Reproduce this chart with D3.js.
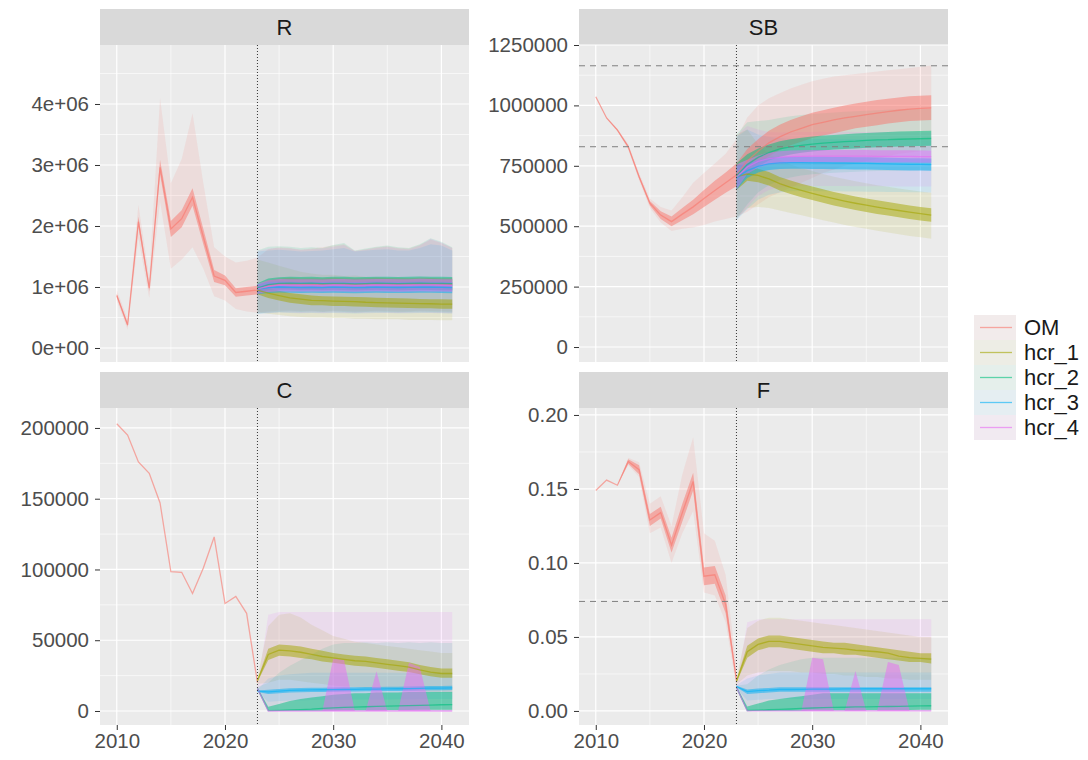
<!DOCTYPE html>
<html>
<head>
<meta charset="utf-8">
<script src="https://cdn.jsdelivr.net/npm/d3@7"></script>
<style>
  body { margin: 0; background: #fff; }
  text { font-family: "Liberation Sans", Arial, sans-serif; }
</style>
</head>
<body>
<svg id="chart" width="1088" height="760"></svg>
<script>
// ---- data: rows are [year, q05, q25, median, q75, q95] ----
const SERIES = ["OM", "hcr_1", "hcr_2", "hcr_3", "hcr_4"];
const SERIES_COLORS = ["#F8766D", "#A3A500", "#00BF7D", "#00B0F6", "#E76BF3"];
const PROJ_YEAR = 2023;
const X_TICKS = [2010, 2020, 2030, 2040];
const X_MINOR = [2015, 2025, 2035];

const R_TICKS = [0, 1e6, 2e6, 3e6, 4e6];
const R_LABELS = ["0e+00", "1e+06", "2e+06", "3e+06", "4e+06"];
const SB_TICKS = [0, 250000, 500000, 750000, 1000000, 1250000];
const SB_LABELS = ["0", "250000", "500000", "750000", "1000000", "1250000"];
const C_TICKS = [0, 50000, 100000, 150000, 200000];
const C_LABELS = ["0", "50000", "100000", "150000", "200000"];
const F_TICKS = [0, 0.05, 0.10, 0.15, 0.20];
const F_LABELS = ["0.00", "0.05", "0.10", "0.15", "0.20"];

const SB_REF = [1164000, 829000];
const F_REF = [0.074];

const R_OM = [
  [2010, 780000, 830000, 860000, 890000, 950000],
  [2011, 300000, 350000, 380000, 410000, 470000],
  [2012, 1800000, 1990000, 2070000, 2150000, 2350000],
  [2013, 820000, 930000, 980000, 1030000, 1150000],
  [2014, 2400000, 2850000, 2960000, 3080000, 4100000],
  [2015, 1300000, 1820000, 1950000, 2080000, 2700000],
  [2016, 1450000, 1980000, 2120000, 2260000, 3100000],
  [2017, 1650000, 2330000, 2470000, 2620000, 3850000],
  [2018, 1300000, 1700000, 1820000, 1950000, 2700000],
  [2019, 850000, 1080000, 1180000, 1280000, 1650000],
  [2020, 780000, 1030000, 1110000, 1190000, 1500000],
  [2021, 640000, 840000, 910000, 980000, 1400000],
  [2022, 600000, 860000, 930000, 1000000, 1430000],
  [2023, 580000, 880000, 950000, 1020000, 1480000],
  [2024, 600000, 930000, 1020000, 1110000, 1620000],
  [2025, 610000, 950000, 1045000, 1140000, 1650000],
  [2026, 615000, 955000, 1050000, 1150000, 1640000],
  [2027, 605000, 945000, 1042000, 1140000, 1610000],
  [2028, 610000, 950000, 1048000, 1145000, 1630000],
  [2029, 600000, 945000, 1040000, 1138000, 1650000],
  [2030, 612000, 952000, 1052000, 1150000, 1680000],
  [2031, 605000, 948000, 1046000, 1144000, 1700000],
  [2032, 598000, 942000, 1040000, 1138000, 1590000],
  [2033, 604000, 946000, 1045000, 1143000, 1620000],
  [2034, 610000, 952000, 1050000, 1150000, 1650000],
  [2035, 606000, 948000, 1048000, 1146000, 1670000],
  [2036, 600000, 944000, 1043000, 1142000, 1640000],
  [2037, 604000, 947000, 1046000, 1145000, 1630000],
  [2038, 610000, 952000, 1051000, 1150000, 1690000],
  [2039, 606000, 950000, 1049000, 1148000, 1780000],
  [2040, 602000, 946000, 1046000, 1145000, 1720000],
  [2041, 598000, 943000, 1043000, 1142000, 1640000]
];
const R_HCR1 = [
  [2023, 580000, 880000, 950000, 1020000, 1450000],
  [2024, 560000, 820000, 900000, 980000, 1400000],
  [2025, 540000, 780000, 860000, 940000, 1350000],
  [2026, 520000, 740000, 820000, 900000, 1300000],
  [2027, 510000, 720000, 800000, 880000, 1250000],
  [2028, 500000, 700000, 780000, 860000, 1220000],
  [2029, 500000, 700000, 775000, 850000, 1200000],
  [2030, 490000, 690000, 770000, 845000, 1200000],
  [2031, 490000, 690000, 765000, 840000, 1180000],
  [2032, 480000, 680000, 760000, 835000, 1190000],
  [2033, 480000, 675000, 750000, 830000, 1170000],
  [2034, 470000, 670000, 745000, 825000, 1160000],
  [2035, 470000, 665000, 740000, 820000, 1150000],
  [2036, 470000, 660000, 735000, 815000, 1160000],
  [2037, 460000, 655000, 730000, 810000, 1140000],
  [2038, 460000, 650000, 728000, 805000, 1130000],
  [2039, 460000, 650000, 725000, 800000, 1150000],
  [2040, 455000, 645000, 720000, 798000, 1140000],
  [2041, 455000, 645000, 718000, 795000, 1130000]
];
const R_HCR2 = [
  [2023, 560000, 900000, 980000, 1060000, 1600000],
  [2024, 580000, 950000, 1040000, 1140000, 1660000],
  [2025, 590000, 960000, 1060000, 1160000, 1670000],
  [2026, 600000, 960000, 1065000, 1170000, 1660000],
  [2027, 590000, 950000, 1060000, 1165000, 1640000],
  [2028, 600000, 955000, 1062000, 1170000, 1650000],
  [2029, 590000, 950000, 1055000, 1160000, 1640000],
  [2030, 600000, 955000, 1060000, 1170000, 1690000],
  [2031, 590000, 950000, 1058000, 1168000, 1720000],
  [2032, 580000, 945000, 1050000, 1160000, 1600000],
  [2033, 590000, 950000, 1055000, 1165000, 1630000],
  [2034, 595000, 955000, 1062000, 1170000, 1660000],
  [2035, 590000, 950000, 1060000, 1168000, 1680000],
  [2036, 585000, 945000, 1055000, 1165000, 1650000],
  [2037, 590000, 950000, 1058000, 1168000, 1640000],
  [2038, 595000, 955000, 1062000, 1172000, 1700000],
  [2039, 590000, 950000, 1060000, 1170000, 1800000],
  [2040, 585000, 948000, 1058000, 1168000, 1740000],
  [2041, 580000, 945000, 1055000, 1165000, 1650000]
];
const R_HCR3 = [
  [2023, 560000, 880000, 960000, 1040000, 1580000],
  [2024, 570000, 900000, 990000, 1080000, 1600000],
  [2025, 580000, 910000, 1000000, 1090000, 1610000],
  [2026, 575000, 905000, 995000, 1085000, 1600000],
  [2027, 570000, 900000, 990000, 1080000, 1580000],
  [2028, 575000, 905000, 995000, 1085000, 1590000],
  [2029, 570000, 900000, 990000, 1080000, 1600000],
  [2030, 575000, 905000, 998000, 1090000, 1620000],
  [2031, 570000, 902000, 995000, 1088000, 1640000],
  [2032, 565000, 898000, 990000, 1082000, 1580000],
  [2033, 570000, 900000, 992000, 1085000, 1600000],
  [2034, 575000, 905000, 998000, 1090000, 1610000],
  [2035, 572000, 903000, 995000, 1088000, 1620000],
  [2036, 568000, 900000, 992000, 1084000, 1600000],
  [2037, 570000, 902000, 995000, 1087000, 1600000],
  [2038, 574000, 906000, 998000, 1090000, 1640000],
  [2039, 572000, 904000, 996000, 1088000, 1700000],
  [2040, 568000, 900000, 993000, 1085000, 1680000],
  [2041, 565000, 898000, 990000, 1082000, 1600000]
];
const R_HCR4 = [
  [2023, 570000, 890000, 970000, 1050000, 1590000],
  [2024, 575000, 920000, 1010000, 1110000, 1630000],
  [2025, 585000, 930000, 1030000, 1130000, 1640000],
  [2026, 580000, 928000, 1028000, 1128000, 1630000],
  [2027, 575000, 925000, 1025000, 1125000, 1610000],
  [2028, 580000, 928000, 1028000, 1128000, 1620000],
  [2029, 575000, 925000, 1024000, 1124000, 1630000],
  [2030, 582000, 930000, 1032000, 1132000, 1660000],
  [2031, 578000, 927000, 1028000, 1130000, 1690000],
  [2032, 572000, 922000, 1022000, 1122000, 1590000],
  [2033, 576000, 925000, 1026000, 1127000, 1610000],
  [2034, 580000, 930000, 1032000, 1133000, 1640000],
  [2035, 577000, 927000, 1029000, 1130000, 1660000],
  [2036, 573000, 924000, 1025000, 1126000, 1630000],
  [2037, 576000, 926000, 1028000, 1129000, 1620000],
  [2038, 580000, 930000, 1032000, 1134000, 1680000],
  [2039, 578000, 928000, 1030000, 1132000, 1790000],
  [2040, 574000, 925000, 1027000, 1128000, 1730000],
  [2041, 570000, 922000, 1024000, 1125000, 1640000]
];

const SB_OM = [
  [2010, 1036000, 1036000, 1036000, 1036000, 1036000],
  [2011, 946000, 947000, 948000, 949000, 950000],
  [2012, 893000, 895000, 898000, 901000, 903000],
  [2013, 818000, 824000, 829000, 834000, 840000],
  [2014, 690000, 698000, 705000, 712000, 720000],
  [2015, 575000, 586000, 595000, 604000, 615000],
  [2016, 515000, 530000, 546000, 562000, 580000],
  [2017, 480000, 500000, 519000, 540000, 565000],
  [2018, 490000, 525000, 550000, 575000, 620000],
  [2019, 495000, 550000, 580000, 610000, 680000],
  [2020, 505000, 580000, 615000, 650000, 720000],
  [2021, 520000, 610000, 648000, 688000, 760000],
  [2022, 530000, 638000, 680000, 722000, 800000],
  [2023, 540000, 665000, 712000, 760000, 860000],
  [2024, 560000, 720000, 770000, 820000, 950000],
  [2025, 590000, 760000, 810000, 860000, 1000000],
  [2026, 620000, 790000, 845000, 895000, 1030000],
  [2027, 640000, 815000, 870000, 920000, 1050000],
  [2028, 660000, 835000, 890000, 940000, 1070000],
  [2029, 680000, 850000, 905000, 955000, 1085000],
  [2030, 700000, 865000, 920000, 970000, 1100000],
  [2031, 720000, 875000, 930000, 980000, 1110000],
  [2032, 735000, 885000, 940000, 990000, 1120000],
  [2033, 750000, 895000, 948000, 1000000, 1125000],
  [2034, 760000, 905000, 955000, 1008000, 1130000],
  [2035, 770000, 912000, 962000, 1015000, 1135000],
  [2036, 780000, 918000, 968000, 1022000, 1140000],
  [2037, 790000, 925000, 974000, 1028000, 1145000],
  [2038, 800000, 930000, 980000, 1033000, 1150000],
  [2039, 805000, 935000, 985000, 1038000, 1155000],
  [2040, 810000, 938000, 988000, 1040000, 1160000],
  [2041, 815000, 940000, 990000, 1042000, 1165000]
];
const SB_HCR1 = [
  [2023, 530000, 650000, 705000, 760000, 880000],
  [2024, 575000, 688000, 716000, 744000, 900000],
  [2025, 580000, 682000, 710000, 738000, 840000],
  [2026, 575000, 668000, 696000, 724000, 800000],
  [2027, 565000, 648000, 676000, 704000, 775000],
  [2028, 555000, 633000, 661000, 689000, 755000],
  [2029, 545000, 620000, 648000, 676000, 740000],
  [2030, 535000, 608000, 636000, 664000, 728000],
  [2031, 525000, 597000, 625000, 653000, 716000],
  [2032, 515000, 586000, 614000, 642000, 705000],
  [2033, 505000, 576000, 604000, 632000, 695000],
  [2034, 497000, 567000, 595000, 623000, 686000],
  [2035, 489000, 559000, 587000, 615000, 678000],
  [2036, 481000, 551000, 579000, 607000, 670000],
  [2037, 474000, 544000, 572000, 600000, 663000],
  [2038, 467000, 537000, 565000, 593000, 656000],
  [2039, 460000, 530000, 558000, 586000, 650000],
  [2040, 454000, 524000, 552000, 580000, 644000],
  [2041, 448000, 518000, 546000, 574000, 638000]
];
const SB_HCR2 = [
  [2023, 530000, 655000, 708000, 760000, 880000],
  [2024, 590000, 712000, 755000, 798000, 930000],
  [2025, 640000, 748000, 785000, 822000, 935000],
  [2026, 670000, 772000, 805000, 838000, 940000],
  [2027, 690000, 788000, 820000, 852000, 948000],
  [2028, 702000, 797000, 828000, 860000, 955000],
  [2029, 710000, 804000, 835000, 866000, 960000],
  [2030, 715000, 809000, 840000, 871000, 964000],
  [2031, 718000, 813000, 844000, 875000, 968000],
  [2032, 721000, 817000, 847000, 878000, 971000],
  [2033, 723000, 820000, 850000, 881000, 974000],
  [2034, 725000, 822000, 852000, 884000, 976000],
  [2035, 727000, 825000, 855000, 886000, 978000],
  [2036, 728000, 827000, 857000, 888000, 980000],
  [2037, 729000, 828000, 858000, 890000, 982000],
  [2038, 730000, 830000, 860000, 892000, 983000],
  [2039, 731000, 831000, 861000, 893000, 984000],
  [2040, 732000, 832000, 862000, 894000, 985000],
  [2041, 732000, 833000, 863000, 895000, 986000]
];
const SB_HCR3 = [
  [2023, 525000, 650000, 700000, 750000, 870000],
  [2024, 570000, 700000, 730000, 760000, 900000],
  [2025, 610000, 722000, 748000, 774000, 880000],
  [2026, 630000, 733000, 758000, 783000, 870000],
  [2027, 640000, 737000, 762000, 787000, 865000],
  [2028, 645000, 738000, 763000, 788000, 862000],
  [2029, 646000, 738000, 763000, 788000, 862000],
  [2030, 646000, 737000, 762000, 787000, 861000],
  [2031, 645000, 737000, 762000, 787000, 861000],
  [2032, 645000, 736000, 761000, 786000, 860000],
  [2033, 644000, 736000, 761000, 786000, 860000],
  [2034, 644000, 735000, 760000, 785000, 860000],
  [2035, 643000, 735000, 760000, 785000, 859000],
  [2036, 643000, 734000, 759000, 784000, 859000],
  [2037, 642000, 733000, 758000, 783000, 858000],
  [2038, 642000, 732000, 757000, 782000, 858000],
  [2039, 641000, 731000, 756000, 781000, 857000],
  [2040, 641000, 731000, 756000, 781000, 857000],
  [2041, 640000, 730000, 755000, 780000, 856000]
];
const SB_HCR4 = [
  [2023, 528000, 652000, 703000, 755000, 875000],
  [2024, 580000, 715000, 745000, 775000, 915000],
  [2025, 625000, 743000, 768000, 793000, 900000],
  [2026, 650000, 755000, 780000, 805000, 890000],
  [2027, 660000, 760000, 785000, 810000, 888000],
  [2028, 664000, 763000, 788000, 813000, 889000],
  [2029, 665000, 764000, 789000, 814000, 890000],
  [2030, 666000, 765000, 790000, 815000, 890000],
  [2031, 666000, 765000, 790000, 815000, 891000],
  [2032, 666000, 765000, 790000, 815000, 891000],
  [2033, 666000, 765000, 790000, 815000, 891000],
  [2034, 665000, 765000, 790000, 815000, 890000],
  [2035, 665000, 765000, 790000, 815000, 890000],
  [2036, 665000, 764000, 789000, 814000, 890000],
  [2037, 665000, 764000, 789000, 814000, 890000],
  [2038, 664000, 764000, 789000, 814000, 889000],
  [2039, 664000, 764000, 789000, 814000, 889000],
  [2040, 664000, 763000, 788000, 813000, 889000],
  [2041, 664000, 763000, 788000, 813000, 889000]
];

const C_OM = [
  [2010, 203000, 203000, 203000, 203000, 203000],
  [2011, 195000, 195000, 195000, 195000, 195000],
  [2012, 176000, 176000, 176000, 176000, 176000],
  [2013, 168000, 168000, 168000, 168000, 168000],
  [2014, 147000, 147000, 147000, 147000, 147000],
  [2015, 98400, 98400, 98400, 98400, 98400],
  [2016, 98000, 98000, 98000, 98000, 98000],
  [2017, 83000, 83000, 83000, 83000, 83000],
  [2018, 101000, 101000, 101000, 101000, 101000],
  [2019, 123000, 123000, 123000, 123000, 123000],
  [2020, 76000, 76000, 76000, 76000, 76000],
  [2021, 81000, 81000, 81000, 81000, 81000],
  [2022, 69000, 69000, 69000, 69000, 69000],
  [2023, 20000, 20000, 20000, 20000, 20000]
];
const C_HCR1 = [
  [2023, 19000, 20500, 21500, 22500, 24000],
  [2024, 20000, 36000, 40000, 44000, 60000],
  [2025, 22000, 39000, 43000, 47000, 68000],
  [2026, 22000, 38500, 42500, 46500, 69000],
  [2027, 21000, 37500, 41500, 45500, 66000],
  [2028, 20000, 36500, 40000, 44000, 61000],
  [2029, 19000, 35000, 38500, 42500, 57000],
  [2030, 18000, 34000, 37500, 41000, 53000],
  [2031, 17500, 33000, 36500, 40000, 51000],
  [2032, 17000, 32000, 35500, 39000, 49000],
  [2033, 16500, 31500, 35000, 38500, 48000],
  [2034, 16000, 30500, 34000, 37500, 47000],
  [2035, 15500, 29500, 33000, 36500, 46000],
  [2036, 15000, 28500, 32000, 35500, 45000],
  [2037, 14500, 27500, 31000, 34500, 44000],
  [2038, 14000, 26000, 29000, 32500, 43000],
  [2039, 13500, 24500, 27500, 31000, 42000],
  [2040, 13000, 23500, 26500, 30000, 41000],
  [2041, 13000, 23500, 26500, 30000, 41000]
];
const C_HCR2 = [
  [2023, 15000, 15500, 16000, 16500, 17000],
  [2024, 0, 0, 300, 3000, 20000],
  [2025, 0, 0, 500, 5000, 27000],
  [2026, 0, 0, 800, 7000, 32000],
  [2027, 0, 0, 1000, 8500, 36000],
  [2028, 0, 0, 1300, 9500, 40000],
  [2029, 0, 200, 1800, 10500, 44000],
  [2030, 0, 400, 2200, 11500, 47000],
  [2031, 0, 500, 2600, 12000, 48000],
  [2032, 0, 500, 2800, 12500, 48000],
  [2033, 0, 600, 3000, 12500, 48500],
  [2034, 0, 600, 3200, 13000, 48000],
  [2035, 0, 700, 3400, 13000, 48500],
  [2036, 0, 700, 3600, 13000, 48000],
  [2037, 0, 700, 3800, 13500, 48500],
  [2038, 0, 800, 4000, 13500, 48000],
  [2039, 0, 800, 4200, 13500, 48500],
  [2040, 0, 800, 4400, 13500, 48000],
  [2041, 0, 800, 4500, 13500, 48000]
];
const C_HCR3 = [
  [2023, 13000, 13500, 14000, 14500, 15000],
  [2024, 6500, 12000, 13500, 15000, 23000],
  [2025, 7000, 12500, 14000, 15500, 25000],
  [2026, 7500, 13000, 14500, 16000, 26000],
  [2027, 7500, 13200, 14700, 16200, 26500],
  [2028, 7800, 13400, 14900, 16400, 27000],
  [2029, 8000, 13500, 15000, 16500, 27000],
  [2030, 8000, 13600, 15100, 16600, 27000],
  [2031, 8000, 13700, 15200, 16700, 27000],
  [2032, 8100, 13800, 15300, 16800, 27000],
  [2033, 8100, 13900, 15400, 16900, 27000],
  [2034, 8200, 14000, 15500, 17000, 27000],
  [2035, 8200, 14100, 15600, 17100, 27000],
  [2036, 8300, 14200, 15700, 17200, 27000],
  [2037, 8300, 14300, 15800, 17300, 27000],
  [2038, 8400, 14500, 16000, 17500, 27000],
  [2039, 8400, 14600, 16100, 17600, 27000],
  [2040, 8500, 14700, 16200, 17700, 27000],
  [2041, 8500, 14900, 16400, 17900, 27000]
];
const C_HCR4 = [
  [2023, 15000, 15500, 16000, 16500, 17000],
  [2024, 0, 0, 0, 0, 68000],
  [2025, 0, 0, 0, 0, 70000],
  [2026, 0, 0, 0, 0, 70000],
  [2027, 0, 0, 0, 0, 70000],
  [2028, 0, 0, 0, 0, 70000],
  [2029, 0, 0, 0, 0, 70000],
  [2030, 0, 0, 0, 37000, 70000],
  [2031, 0, 0, 0, 36000, 70000],
  [2032, 0, 0, 0, 0, 70000],
  [2033, 0, 0, 0, 0, 70000],
  [2034, 0, 0, 0, 28000, 70000],
  [2035, 0, 0, 0, 0, 70000],
  [2036, 0, 0, 0, 0, 70000],
  [2037, 0, 0, 0, 34000, 70000],
  [2038, 0, 0, 0, 31000, 70000],
  [2039, 0, 0, 0, 0, 70000],
  [2040, 0, 0, 0, 0, 70000],
  [2041, 0, 0, 0, 0, 70000]
];

const F_OM = [
  [2010, 0.149, 0.149, 0.149, 0.149, 0.149],
  [2011, 0.156, 0.156, 0.156, 0.156, 0.156],
  [2012, 0.1525, 0.1525, 0.1525, 0.1525, 0.1525],
  [2013, 0.166, 0.167, 0.1685, 0.170, 0.171],
  [2014, 0.158, 0.160, 0.163, 0.166, 0.168],
  [2015, 0.120, 0.125, 0.129, 0.133, 0.140],
  [2016, 0.124, 0.130, 0.134, 0.138, 0.145],
  [2017, 0.100, 0.107, 0.112, 0.117, 0.125],
  [2018, 0.120, 0.128, 0.134, 0.140, 0.160],
  [2019, 0.135, 0.149, 0.155, 0.161, 0.185],
  [2020, 0.080, 0.085, 0.091, 0.097, 0.120],
  [2021, 0.078, 0.086, 0.092, 0.098, 0.115],
  [2022, 0.060, 0.066, 0.072, 0.078, 0.092],
  [2023, 0.016, 0.019, 0.021, 0.023, 0.030]
];
const F_HCR1 = [
  [2023, 0.018, 0.019, 0.020, 0.021, 0.022],
  [2024, 0.024, 0.036, 0.040, 0.044, 0.056],
  [2025, 0.026, 0.041, 0.045, 0.049, 0.061],
  [2026, 0.027, 0.043, 0.047, 0.051, 0.063],
  [2027, 0.027, 0.043, 0.047, 0.051, 0.063],
  [2028, 0.027, 0.042, 0.046, 0.050, 0.062],
  [2029, 0.026, 0.041, 0.045, 0.049, 0.061],
  [2030, 0.026, 0.040, 0.044, 0.048, 0.060],
  [2031, 0.025, 0.039, 0.043, 0.047, 0.059],
  [2032, 0.025, 0.039, 0.0425, 0.046, 0.058],
  [2033, 0.024, 0.038, 0.042, 0.046, 0.057],
  [2034, 0.024, 0.038, 0.041, 0.045, 0.056],
  [2035, 0.023, 0.037, 0.0405, 0.044, 0.055],
  [2036, 0.023, 0.036, 0.040, 0.043, 0.054],
  [2037, 0.022, 0.035, 0.039, 0.042, 0.053],
  [2038, 0.022, 0.034, 0.037, 0.041, 0.052],
  [2039, 0.021, 0.033, 0.036, 0.040, 0.051],
  [2040, 0.021, 0.033, 0.0355, 0.039, 0.050],
  [2041, 0.021, 0.032, 0.035, 0.039, 0.050]
];
const F_HCR2 = [
  [2023, 0.015, 0.0155, 0.016, 0.0165, 0.017],
  [2024, 0, 0, 0.0003, 0.003, 0.018],
  [2025, 0, 0, 0.0005, 0.005, 0.024],
  [2026, 0, 0, 0.0008, 0.007, 0.028],
  [2027, 0, 0, 0.001, 0.008, 0.031],
  [2028, 0, 0, 0.0013, 0.009, 0.033],
  [2029, 0, 0.0002, 0.0017, 0.010, 0.035],
  [2030, 0, 0.0004, 0.002, 0.011, 0.036],
  [2031, 0, 0.0005, 0.0022, 0.012, 0.036],
  [2032, 0, 0.0005, 0.0024, 0.012, 0.036],
  [2033, 0, 0.0005, 0.0025, 0.012, 0.036],
  [2034, 0, 0.0005, 0.0027, 0.012, 0.036],
  [2035, 0, 0.0006, 0.0028, 0.012, 0.036],
  [2036, 0, 0.0006, 0.0029, 0.012, 0.036],
  [2037, 0, 0.0006, 0.0030, 0.012, 0.036],
  [2038, 0, 0.0007, 0.0031, 0.012, 0.036],
  [2039, 0, 0.0007, 0.0033, 0.012, 0.036],
  [2040, 0, 0.0008, 0.0034, 0.012, 0.036],
  [2041, 0, 0.0008, 0.0035, 0.012, 0.036]
];
const F_HCR3 = [
  [2023, 0.0155, 0.016, 0.0165, 0.017, 0.0175],
  [2024, 0.007, 0.0115, 0.013, 0.0145, 0.022],
  [2025, 0.0075, 0.012, 0.0137, 0.0152, 0.024],
  [2026, 0.008, 0.0125, 0.014, 0.0155, 0.025],
  [2027, 0.008, 0.013, 0.0145, 0.016, 0.026],
  [2028, 0.008, 0.013, 0.0145, 0.016, 0.026],
  [2029, 0.008, 0.013, 0.0146, 0.016, 0.026],
  [2030, 0.008, 0.013, 0.0147, 0.016, 0.026],
  [2031, 0.008, 0.013, 0.0148, 0.016, 0.026],
  [2032, 0.008, 0.013, 0.0148, 0.016, 0.026],
  [2033, 0.008, 0.013, 0.0149, 0.016, 0.026],
  [2034, 0.008, 0.013, 0.0149, 0.016, 0.026],
  [2035, 0.008, 0.013, 0.0150, 0.016, 0.026],
  [2036, 0.008, 0.013, 0.0150, 0.016, 0.026],
  [2037, 0.008, 0.013, 0.0150, 0.016, 0.026],
  [2038, 0.008, 0.013, 0.0150, 0.016, 0.026],
  [2039, 0.008, 0.013, 0.0150, 0.016, 0.026],
  [2040, 0.008, 0.013, 0.0150, 0.016, 0.026],
  [2041, 0.008, 0.013, 0.0150, 0.016, 0.026]
];
const F_HCR4 = [
  [2023, 0.015, 0.0155, 0.016, 0.0165, 0.017],
  [2024, 0, 0, 0, 0, 0.060],
  [2025, 0, 0, 0, 0, 0.062],
  [2026, 0, 0, 0, 0, 0.062],
  [2027, 0, 0, 0, 0, 0.062],
  [2028, 0, 0, 0, 0, 0.062],
  [2029, 0, 0, 0, 0, 0.062],
  [2030, 0, 0, 0, 0.036, 0.062],
  [2031, 0, 0, 0, 0.035, 0.062],
  [2032, 0, 0, 0, 0, 0.062],
  [2033, 0, 0, 0, 0, 0.062],
  [2034, 0, 0, 0, 0.027, 0.062],
  [2035, 0, 0, 0, 0, 0.062],
  [2036, 0, 0, 0, 0, 0.062],
  [2037, 0, 0, 0, 0.033, 0.062],
  [2038, 0, 0, 0, 0.031, 0.062],
  [2039, 0, 0, 0, 0, 0.062],
  [2040, 0, 0, 0, 0, 0.062],
  [2041, 0, 0, 0, 0, 0.062]
];

// ---- layout ----
const COL_X = [100, 579];
const ROW_Y = [45, 408];
const PW = 369, PH = 317, STRIP_H = 36;
const X_DOMAIN = [2008.45, 2042.55];
const FONT = 20.5, STRIP_FONT = 22, LEGEND_FONT = 22;
const OUTER_ALPHA = 0.12, INNER_ALPHA = 0.5;

const panels = [
  { name: "R",  col: 0, row: 0, domain: [-229500, 4967000], ticks: R_TICKS, labels: R_LABELS, refs: [],
    data: [R_OM, R_HCR1, R_HCR2, R_HCR3, R_HCR4] },
  { name: "SB", col: 1, row: 0, domain: [-62000, 1250000], ticks: SB_TICKS, labels: SB_LABELS, refs: SB_REF,
    data: [SB_OM, SB_HCR1, SB_HCR2, SB_HCR3, SB_HCR4] },
  { name: "C",  col: 0, row: 1, domain: [-9900, 214100], ticks: C_TICKS, labels: C_LABELS, refs: [],
    data: [C_OM, C_HCR1, C_HCR2, C_HCR3, C_HCR4] },
  { name: "F",  col: 1, row: 1, domain: [-0.0095, 0.2047], ticks: F_TICKS, labels: F_LABELS, refs: F_REF,
    data: [F_OM, F_HCR1, F_HCR2, F_HCR3, F_HCR4] }
];

const svg = d3.select("#chart");
svg.append("rect").attr("width", 1088).attr("height", 760).attr("fill", "#fff");

function drawPanel(p, idx) {
  const g = svg.append("g").attr("transform", `translate(${COL_X[p.col]},${ROW_Y[p.row]})`);
  const x = d3.scaleLinear().domain(X_DOMAIN).range([0, PW]);
  const y = d3.scaleLinear().domain(p.domain).range([PH, 0]);

  // strip
  g.append("rect").attr("x", 0).attr("y", -STRIP_H).attr("width", PW).attr("height", STRIP_H)
    .attr("fill", "#D9D9D9");
  g.append("text").attr("x", PW / 2).attr("y", -STRIP_H / 2).attr("dy", "0.36em")
    .attr("text-anchor", "middle").attr("font-size", STRIP_FONT).attr("fill", "#1A1A1A").text(p.name);

  // panel background + grid
  g.append("rect").attr("width", PW).attr("height", PH).attr("fill", "#EBEBEB");
  const yMinor = d3.pairs(p.ticks).map(([a, b]) => (a + b) / 2);
  const step = p.ticks[1] - p.ticks[0];
  const extra = p.ticks[p.ticks.length - 1] + step / 2;
  if (extra < p.domain[1]) yMinor.push(extra);

  const grid = g.append("g");
  grid.selectAll(".ymin").data(yMinor).join("line")
    .attr("x1", 0).attr("x2", PW).attr("y1", d => y(d)).attr("y2", d => y(d))
    .attr("stroke", "#fff").attr("stroke-width", 0.6);
  grid.selectAll(".xmin").data(X_MINOR).join("line")
    .attr("y1", 0).attr("y2", PH).attr("x1", d => x(d)).attr("x2", d => x(d))
    .attr("stroke", "#fff").attr("stroke-width", 0.6);
  grid.selectAll(".ymaj").data(p.ticks).join("line")
    .attr("x1", 0).attr("x2", PW).attr("y1", d => y(d)).attr("y2", d => y(d))
    .attr("stroke", "#fff").attr("stroke-width", 1.2);
  grid.selectAll(".xmaj").data(X_TICKS).join("line")
    .attr("y1", 0).attr("y2", PH).attr("x1", d => x(d)).attr("x2", d => x(d))
    .attr("stroke", "#fff").attr("stroke-width", 1.2);

  // ribbons and median lines
  const clipId = "clip" + idx;
  g.append("clipPath").attr("id", clipId).append("rect").attr("width", PW).attr("height", PH);
  const plot = g.append("g").attr("clip-path", `url(#${clipId})`);

  const outer = d3.area().x(d => x(d[0])).y0(d => y(d[1])).y1(d => y(d[5]));
  const inner = d3.area().x(d => x(d[0])).y0(d => y(d[2])).y1(d => y(d[4]));
  const mid = d3.line().x(d => x(d[0])).y(d => y(d[3]));

  p.data.forEach((rows, i) => {
    plot.append("path").attr("d", outer(rows)).attr("fill", SERIES_COLORS[i]).attr("fill-opacity", OUTER_ALPHA);
  });
  p.data.forEach((rows, i) => {
    plot.append("path").attr("d", inner(rows)).attr("fill", SERIES_COLORS[i]).attr("fill-opacity", INNER_ALPHA);
  });
  p.data.forEach((rows, i) => {
    plot.append("path").attr("d", mid(rows)).attr("fill", "none")
      .attr("stroke", SERIES_COLORS[i]).attr("stroke-opacity", 0.6).attr("stroke-width", 1.3);
  });

  // reference lines
  plot.selectAll(".ref").data(p.refs).join("line")
    .attr("x1", 0).attr("x2", PW).attr("y1", d => y(d)).attr("y2", d => y(d))
    .attr("stroke", "#7F7F7F").attr("stroke-width", 1).attr("stroke-dasharray", "6,5");
  plot.append("line")
    .attr("x1", x(PROJ_YEAR)).attr("x2", x(PROJ_YEAR)).attr("y1", 0).attr("y2", PH)
    .attr("stroke", "#333").attr("stroke-width", 1).attr("stroke-dasharray", "1,2");

  // axes
  const yAxis = g.append("g")
    .call(d3.axisLeft(y).tickValues(p.ticks).tickFormat((d, i) => p.labels[i]).tickSize(5).tickPadding(6));
  yAxis.select(".domain").remove();
  yAxis.selectAll(".tick line").attr("stroke", "#333").attr("stroke-width", 1);
  yAxis.selectAll(".tick text").attr("fill", "#4D4D4D").attr("font-size", FONT)
    .attr("font-family", "'Liberation Sans', Arial, sans-serif");

  if (p.row === 1) {
    const xAxis = g.append("g").attr("transform", `translate(0,${PH})`)
      .call(d3.axisBottom(x).tickValues(X_TICKS).tickFormat(d3.format("d")).tickSize(5).tickPadding(3));
    xAxis.select(".domain").remove();
    xAxis.selectAll(".tick line").attr("stroke", "#333").attr("stroke-width", 1);
    xAxis.selectAll(".tick text").attr("fill", "#4D4D4D").attr("font-size", FONT)
      .attr("font-family", "'Liberation Sans', Arial, sans-serif");
  }
}

panels.forEach(drawPanel);

// ---- legend ----
const legend = svg.append("g").attr("transform", "translate(974,315)");
const KEY_W = 42, KEY_H = 25;
SERIES.forEach((s, i) => {
  const k = legend.append("g").attr("transform", `translate(0,${i * KEY_H})`);
  k.append("rect").attr("width", KEY_W).attr("height", KEY_H).attr("fill", "#F2F2F2");
  k.append("rect").attr("width", KEY_W).attr("height", KEY_H)
    .attr("fill", SERIES_COLORS[i]).attr("fill-opacity", 0.05);
  k.append("line").attr("x1", 6).attr("x2", KEY_W - 4).attr("y1", KEY_H / 2).attr("y2", KEY_H / 2)
    .attr("stroke", SERIES_COLORS[i]).attr("stroke-opacity", 0.6).attr("stroke-width", 1.3);
  k.append("text").attr("x", KEY_W + 8).attr("y", KEY_H / 2).attr("dy", "0.36em")
    .attr("font-size", LEGEND_FONT).attr("fill", "#1A1A1A").text(s);
});
</script>
</body>
</html>
